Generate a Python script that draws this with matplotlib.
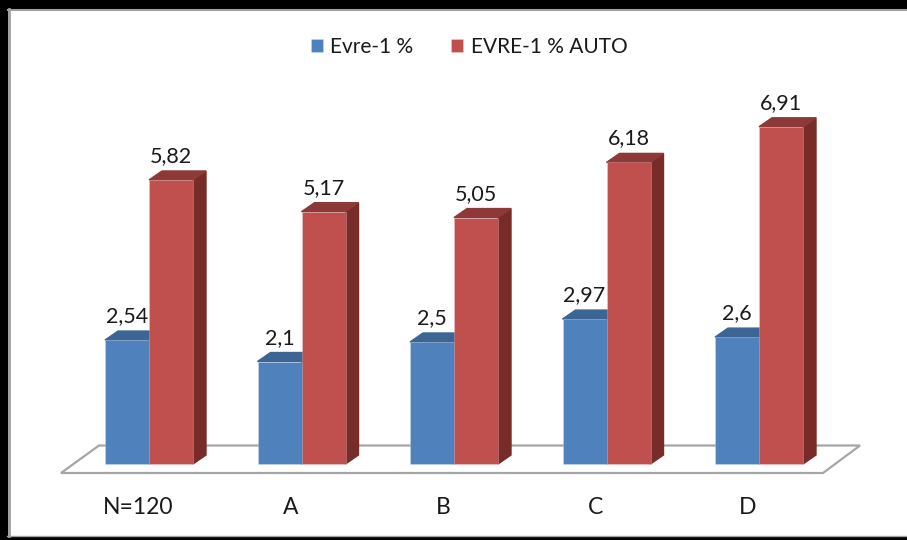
import matplotlib
matplotlib.use('Agg')
import matplotlib.pyplot as plt
from matplotlib.patches import Polygon, Rectangle
import numpy as np

categories = ['N=120', 'A', 'B', 'C', 'D']
evre = [2.54, 2.1, 2.5, 2.97, 2.6]
evre_auto = [5.82, 5.17, 5.05, 6.18, 6.91]
labels = ['Evre-1 %', 'EVRE-1 % AUTO']

# colours (front, top, side)
blue = ('#4f81bd', '#3d6593', '#2f4f75')
red = ('#c0504d', '#8c3937', '#772c2a')

plt.rcParams['font.family'] = ['Lato', 'DejaVu Sans']

W, H = 907, 540
fig = plt.figure(figsize=(W / 100, H / 100), dpi=100)
ax = fig.add_axes([0, 0, 1, 1])

# pixel -> data mapping: group centre at 149 + 152.5*i, zero at y=464, 48.8 px per unit
px_x, x0 = 152.5, 149
px_y, y0 = 48.8, 464
ax.set_xlim(-x0 / px_x, (W - x0) / px_x)
ax.set_ylim((y0 - H) / px_y, y0 / px_y)
ax.axis('off')

x = np.arange(len(categories))
width = 44 / px_x
dx, dy = 13 / px_x, 9 / px_y

# floor
floor = Polygon([(-88 / px_x, -9 / px_y), (-50 / px_x, 18.5 / px_y),
                 (x[-1] + 101 / px_x, 18.5 / px_y), (x[-1] + 64 / px_x, -9 / px_y)],
                closed=True, facecolor='white', edgecolor='#a6a6a6', lw=1.6, zorder=1)
ax.add_patch(floor)


def bar3d(xs, vals, cols, label, z):
    bars = ax.bar(xs, vals, width=width, align='edge', color=cols[0],
                  edgecolor='#ffffff40', lw=0.6, label=label, zorder=z + 0.5)
    for b in bars:
        l, r, h = b.get_x(), b.get_x() + b.get_width(), b.get_height()
        ax.add_patch(Polygon([(r, 0), (r + dx, dy), (r + dx, h + dy), (r, h)],
                             closed=True, color=cols[2], zorder=z))
        ax.add_patch(Polygon([(l, h), (l + dx, h + dy), (r + dx, h + dy), (r, h)],
                             closed=True, color=cols[1], zorder=z))
        txt = ('%g' % h).replace('.', ',')
        ax.text(l + width / 2, h + dy + 0.1, txt, ha='center', va='bottom',
                fontsize=15.5, color='#1a1a1a', zorder=10)
    return bars


bar3d(x - width, evre, blue, labels[0], 2)
bar3d(x, evre_auto, red, labels[1], 4)

for xi, c in zip(x, categories):
    ax.text(xi - 11 / px_x, (y0 - 507) / px_y, c, ha='center', va='center',
            fontsize=16.5, color='#1a1a1a')

leg = ax.legend(loc='center', bbox_to_anchor=(469 / W, 1 - 47 / H), ncol=2, frameon=False,
                fontsize=15, handlelength=0.6, handleheight=0.6, handletextpad=0.35,
                columnspacing=1.8, labelcolor='#1a1a1a')

# frame: black top/left/bottom bands with thin grey inner line
fig.patches.append(Rectangle((0, 1 - 8 / H), 1, 8 / H, transform=fig.transFigure,
                             color='black', zorder=20))
fig.patches.append(Rectangle((0, 0), 7 / W, 1, transform=fig.transFigure,
                             color='black', zorder=20))
fig.patches.append(Rectangle((0, 0), 1, 3 / H, transform=fig.transFigure,
                             color='black', zorder=20))
fig.lines.append(plt.Line2D([7.5 / W, 1], [1 - 9.5 / H, 1 - 9.5 / H], transform=fig.transFigure,
                            color='#a0a0a0', lw=1.5, zorder=21))
fig.lines.append(plt.Line2D([9 / W, 9 / W], [4 / H, 1 - 9 / H], transform=fig.transFigure,
                            color='#a0a0a0', lw=2, zorder=21))
fig.lines.append(plt.Line2D([7 / W, 1], [4.5 / H, 4.5 / H], transform=fig.transFigure,
                            color='#a0a0a0', lw=1, zorder=21))

fig.savefig('out.png', dpi=100, facecolor='white')
